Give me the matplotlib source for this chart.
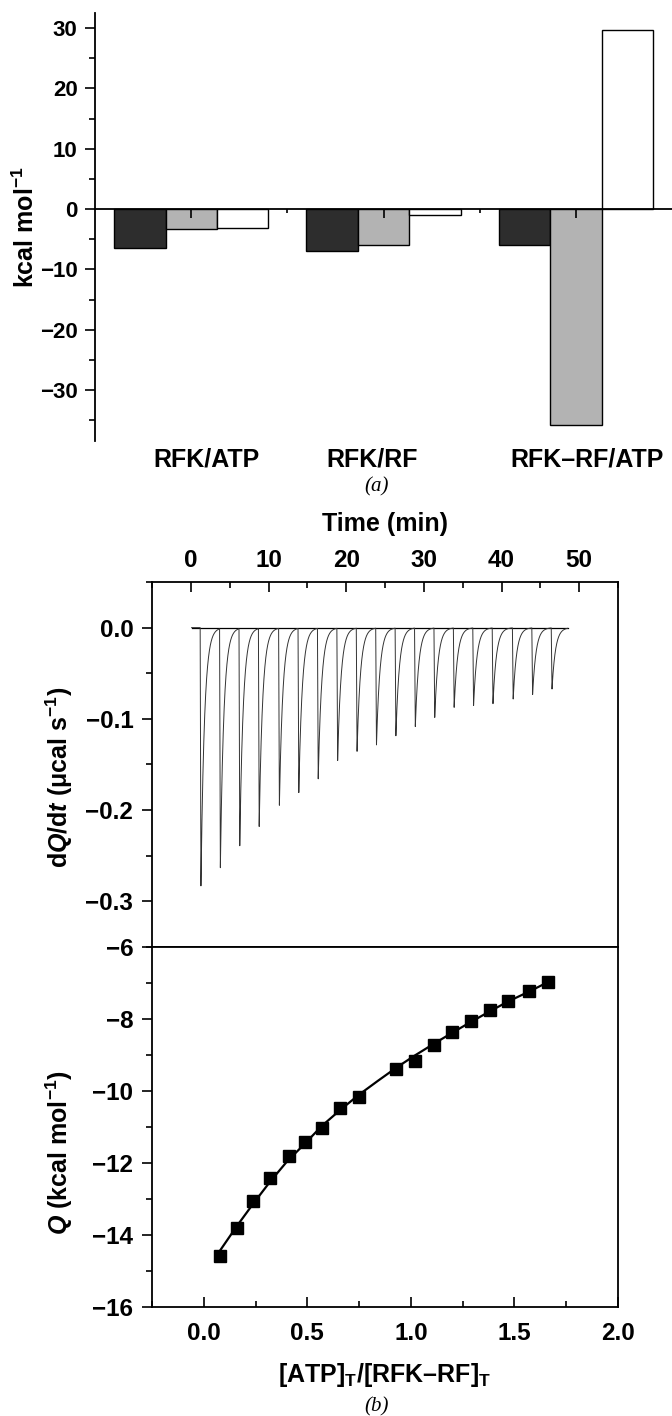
import numpy as np
import matplotlib
matplotlib.use("Agg")
import matplotlib.pyplot as plt
import matplotlib.transforms as mtransforms
from matplotlib.ticker import MultipleLocator

# (a) thermodynamic parameters, kcal/mol
groups = ["RFK/ATP", "RFK/RF", "RFK–RF/ATP"]
dG = [-6.5, -7.0, -6.0]
dH = [-3.3, -6.0, -35.7]
mTdS = [-3.1, -0.9, 29.6]

# (b) raw ITC trace: injection times (min) and peak heights (ucal/s)
inj_time = [1.2, 3.7, 6.2, 8.7, 11.3, 13.8, 16.3, 18.8, 21.3, 23.8,
            26.3, 28.8, 31.3, 33.8, 36.3, 38.8, 41.4, 43.9, 46.4]
inj_peak = [-0.283, -0.262, -0.238, -0.217, -0.194, -0.180, -0.165, -0.145, -0.135, -0.128,
            -0.118, -0.108, -0.098, -0.087, -0.085, -0.083, -0.078, -0.073, -0.067]
trace_start, trace_end = 0.1, 48.5

# (b) integrated heats
ratio = [0.08, 0.16, 0.24, 0.32, 0.41, 0.49, 0.57, 0.66, 0.75,
         0.93, 1.02, 1.11, 1.20, 1.29, 1.38, 1.47, 1.57, 1.66]
heat = [-14.58, -13.80, -13.06, -12.42, -11.80, -11.43, -11.03, -10.46, -10.16,
        -9.38, -9.17, -8.71, -8.37, -8.06, -7.74, -7.51, -7.23, -6.98]
fit_x = [0.08, 0.16, 0.24, 0.32, 0.40, 0.49, 0.57, 0.66, 0.75, 0.84,
         0.93, 1.02, 1.11, 1.20, 1.29, 1.38, 1.47, 1.57, 1.66]
fit_y = [-14.42, -13.75, -13.12, -12.52, -11.97, -11.45, -10.97, -10.52, -10.10, -9.72,
         -9.35, -9.01, -8.69, -8.38, -8.08, -7.79, -7.51, -7.24, -6.98]

plt.rcParams["font.family"] = ["Liberation Sans", "DejaVu Sans"]
plt.rcParams["font.weight"] = "bold"
plt.rcParams["mathtext.default"] = "regular"
plt.rcParams["mathtext.fontset"] = "custom"
plt.rcParams["mathtext.it"] = "Liberation Sans:italic:bold"
plt.rcParams["mathtext.rm"] = "Liberation Sans:bold"
plt.rcParams["axes.linewidth"] = 1.3

TICK_A = 16
TICK_B = 17.5
LABEL = 18

fig = plt.figure(figsize=(6.72, 14.16), dpi=100)

# ---------------- (a) ----------------
ax = fig.add_axes([0.1414, 0.6886, 0.8586, 0.3019])
x = np.arange(1, len(groups) + 1)
w = 0.267
ax.bar(x - w, dG, w, color="#2d2d2d", edgecolor="black", linewidth=1)
ax.bar(x, dH, w, color="#b3b3b3", edgecolor="black", linewidth=1)
ax.bar(x + w, mTdS, w, color="white", edgecolor="black", linewidth=1)
ax.set_xlim(0.5, 3.5)
ax.set_ylim(-38.4, 32.4)
ax.spines["top"].set_visible(False)
ax.spines["right"].set_visible(False)
ax.spines["bottom"].set_position(("data", 0))
ax.set_xticks(x)
ax.set_xticks([1.5, 2.5], minor=True)
ax.set_xticklabels([])
ax.tick_params(axis="x", which="major", direction="out", length=6.5, width=1.2)
ax.tick_params(axis="x", which="minor", direction="out", length=3, width=1.2)
ax.set_yticks([-30, -20, -10, 0, 10, 20, 30])
ax.yaxis.set_minor_locator(MultipleLocator(5))
ax.tick_params(axis="y", which="major", direction="out", length=7.5, width=1.2,
               labelsize=TICK_A, pad=5)
ax.tick_params(axis="y", which="minor", direction="out", length=4.5, width=1.2)
ax.set_ylabel("kcal mol$^{-1}$", fontsize=LABEL, fontweight="bold")
ax.yaxis.set_label_coords(-0.097, 0.5)
# group labels sit a little off the group centres in the original
trans = mtransforms.blended_transform_factory(ax.transData, ax.transAxes)
for xi, dx, g in zip(x, [0.08, -0.06, 0.06], groups):
    ax.text(xi + dx, -0.044, g, transform=trans, ha="center", va="center",
            fontsize=LABEL, fontweight="bold")

fig.text(0.561, 1 - 487 / 1416, "(a)", ha="center", va="center",
         fontsize=15, family="Liberation Serif", style="italic", fontweight="normal")

# ---------------- (b) raw data ----------------
axr = fig.add_axes([0.2262, 0.3312, 0.6935, 0.2578])
t = np.arange(trace_start, trace_end, 0.005)
sig = np.zeros_like(t)
rise, tau = 0.1, 0.45
for ti, pk in zip(inj_time, inj_peak):
    m1 = (t >= ti) & (t < ti + rise)
    sig[m1] += pk * (t[m1] - ti) / rise
    m2 = t >= ti + rise
    sig[m2] += pk * np.exp(-(t[m2] - ti - rise) / tau)
axr.plot([trace_start, trace_end], [0, 0], color="black", lw=0.9)
axr.plot(t, sig, color="#333333", lw=0.7)
axr.set_xlim(-5, 55)
axr.set_ylim(-0.35, 0.05)
axr.xaxis.tick_top()
axr.xaxis.set_label_position("top")
axr.set_xticks([0, 10, 20, 30, 40, 50])
axr.xaxis.set_minor_locator(MultipleLocator(5))
axr.tick_params(axis="x", which="major", direction="in", length=7.5, width=1.2,
                labelsize=TICK_B, pad=7.5)
axr.tick_params(axis="x", which="minor", direction="in", length=4.5, width=1.2)
axr.set_yticks([-0.3, -0.2, -0.1, 0.0])
axr.set_yticklabels(["−0.3", "−0.2", "−0.1", "0.0"])
axr.yaxis.set_minor_locator(MultipleLocator(0.05))
axr.tick_params(axis="y", which="major", direction="out", length=7.5, width=1.2,
                labelsize=TICK_B, pad=6)
axr.tick_params(axis="y", which="minor", direction="out", length=4.5, width=1.2)
axr.set_xlabel("Time (min)", fontsize=LABEL, fontweight="bold")
axr.xaxis.set_label_coords(0.5, 1.14)
axr.set_ylabel(r"d$\mathit{Q}$/d$\mathit{t}$ (μcal s$^{-1}$)", fontsize=LABEL,
               fontweight="bold")
axr.yaxis.set_label_coords(-0.165, 0.466)

# ---------------- (b) isotherm ----------------
axq = fig.add_axes([0.2262, 0.0770, 0.6935, 0.2542])
axq.plot(fit_x, fit_y, color="black", lw=1.6)
axq.plot(ratio, heat, "s", color="black", markersize=8)
axq.set_xlim(-0.25, 2.0)
axq.set_ylim(-16, -6)
axq.set_xticks([0.0, 0.5, 1.0, 1.5, 2.0])
axq.set_xticklabels(["0.0", "0.5", "1.0", "1.5", "2.0"])
axq.xaxis.set_minor_locator(MultipleLocator(0.25))
axq.tick_params(axis="x", which="major", direction="in", length=7.5, width=1.2,
                labelsize=TICK_B, pad=11)
axq.tick_params(axis="x", which="minor", direction="in", length=4.5, width=1.2)
axq.set_yticks([-16, -14, -12, -10, -8, -6])
axq.yaxis.set_minor_locator(MultipleLocator(1))
axq.tick_params(axis="y", which="major", direction="out", length=7.5, width=1.2,
                labelsize=TICK_B, pad=6)
axq.tick_params(axis="y", which="minor", direction="out", length=4.5, width=1.2)
axq.set_xlabel("[ATP]$_T$/[RFK–RF]$_T$", fontsize=LABEL, fontweight="bold")
axq.xaxis.set_label_coords(0.5, -0.15)
axq.set_ylabel(r"$\mathit{Q}$ (kcal mol$^{-1}$)", fontsize=LABEL, fontweight="bold")
axq.yaxis.set_label_coords(-0.165, 0.428)

fig.text(0.561, 1 - 1407 / 1416, "(b)", ha="center", va="center",
         fontsize=15, family="Liberation Serif", style="italic", fontweight="normal")

fig.savefig("out.png", dpi=100)
